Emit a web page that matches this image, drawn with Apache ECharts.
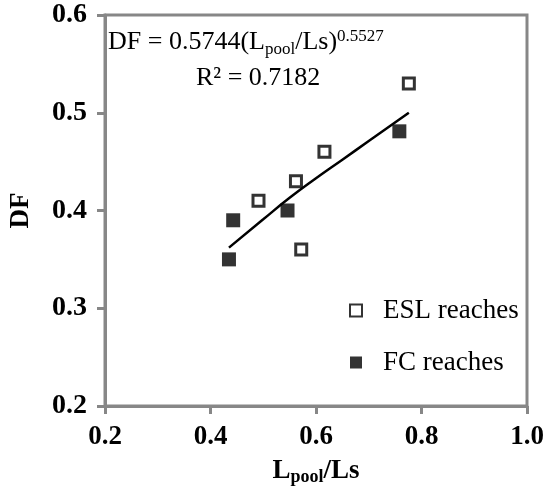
<!DOCTYPE html>
<html>
<head>
<meta charset="utf-8">
<script src="https://cdn.jsdelivr.net/npm/echarts@6/dist/echarts.min.js"></script>
<style>html,body{margin:0;padding:0;background:#fff;}#c{width:545px;height:490px;}</style>
</head>
<body>
<div id="c"></div>
<script>
// Data
var eslX = [0.776, 0.616, 0.562, 0.491, 0.572];
var eslY = [0.530, 0.460, 0.430, 0.410, 0.360];
var fcX = [0.758, 0.443, 0.546, 0.435];
var fcY = [0.481, 0.390, 0.400, 0.350];
var trendX = [0.435, 0.50, 0.55, 0.60, 0.65, 0.70, 0.776];
var trendY = [0.362, 0.391, 0.413, 0.433, 0.452, 0.471, 0.500];
var xTicks = [0.2, 0.4, 0.6, 0.8, 1.0];
var yTicks = [0.2, 0.3, 0.4, 0.5, 0.6];

function pairs(xs, ys) { return xs.map(function (x, i) { return [x, ys[i]]; }); }

var FONT = '"Liberation Serif", "Times New Roman", serif';
var GRAY = '#878787';

var chart = echarts.init(document.getElementById('c'), null, { renderer: 'canvas' });
chart.setOption({
  animation: false,
  backgroundColor: '#fff',
  grid: { left: 105, right: 18, top: 15, bottom: 84, outerBoundsMode: 'none', containLabel: false,
          show: true, borderColor: GRAY, borderWidth: 3, backgroundColor: 'transparent' },
  xAxis: {
    type: 'value', min: xTicks[0], max: xTicks[xTicks.length - 1], interval: 0.2,
    axisLine: { lineStyle: { color: GRAY, width: 3 } },
    axisTick: { show: true, inside: false, length: 8, lineStyle: { color: GRAY, width: 3 } },
    splitLine: { show: false },
    axisLabel: { color: '#000', fontFamily: FONT, fontSize: 27, fontWeight: 'bold', margin: 18, formatter: function (v) { return v.toFixed(1); } },
    name: '{b|L}{s|pool}{b|/Ls}', nameLocation: 'middle', nameGap: 50,
    nameTextStyle: { rich: {
      b: { fontFamily: FONT, fontSize: 27, fontWeight: 'bold', color: '#000' },
      s: { fontFamily: FONT, fontSize: 18, fontWeight: 'bold', color: '#000', padding: [12, 0, 0, 0] }
    } }
  },
  yAxis: {
    type: 'value', min: yTicks[0], max: yTicks[yTicks.length - 1], interval: 0.1,
    axisLine: { lineStyle: { color: GRAY, width: 3 } },
    axisTick: { show: true, inside: false, length: 8, lineStyle: { color: GRAY, width: 3 } },
    splitLine: { show: false },
    axisLabel: { color: '#000', fontFamily: FONT, fontSize: 28, fontWeight: 'bold', margin: 18, formatter: function (v) { return v.toFixed(1); } },
    name: 'DF', nameLocation: 'middle', nameRotate: 90, nameGap: 70,
    nameTextStyle: { fontFamily: FONT, fontSize: 27, fontWeight: 'bold', color: '#000' }
  },
  legend: {
    orient: 'vertical', left: 344, top: 292, itemGap: 25, itemWidth: 12, itemHeight: 12,
    textStyle: { fontFamily: FONT, fontSize: 27, color: '#000', padding: [0, 0, 0, 16] },
    data: ['ESL reaches', 'FC reaches']
  },
  graphic: [{
    type: 'text', left: 108, top: 28,
    style: {
      text: '{m|DF = 0.5744(L}{s|pool}{m|/Ls)}{p|0.5527}',
      rich: {
        m: { fontFamily: FONT, fontSize: 26, fill: '#000' },
        s: { fontFamily: FONT, fontSize: 17, fill: '#000', padding: [14, 0, 0, 0] },
        p: { fontFamily: FONT, fontSize: 17, fill: '#000', padding: [0, 0, 12, 0] }
      }
    }
  }, {
    type: 'text', left: 196, top: 65,
    style: { text: 'R² = 0.7182', fontFamily: FONT, fontSize: 26, fill: '#000' }
  }],
  series: [{
    name: 'trend', type: 'line', data: pairs(trendX, trendY), smooth: true, showSymbol: false,
    lineStyle: { color: '#000', width: 2.5 }, z: 1
  }, {
    name: 'ESL reaches', type: 'scatter', data: pairs(eslX, eslY), symbol: 'rect', symbolSize: 11,
    itemStyle: { color: '#fff', borderColor: '#000', borderWidth: 3 }, z: 3
  }, {
    name: 'FC reaches', type: 'scatter', data: pairs(fcX, fcY), symbol: 'rect', symbolSize: 14,
    itemStyle: { color: '#000' }, z: 3
  }]
});
</script>
</body>
</html>
